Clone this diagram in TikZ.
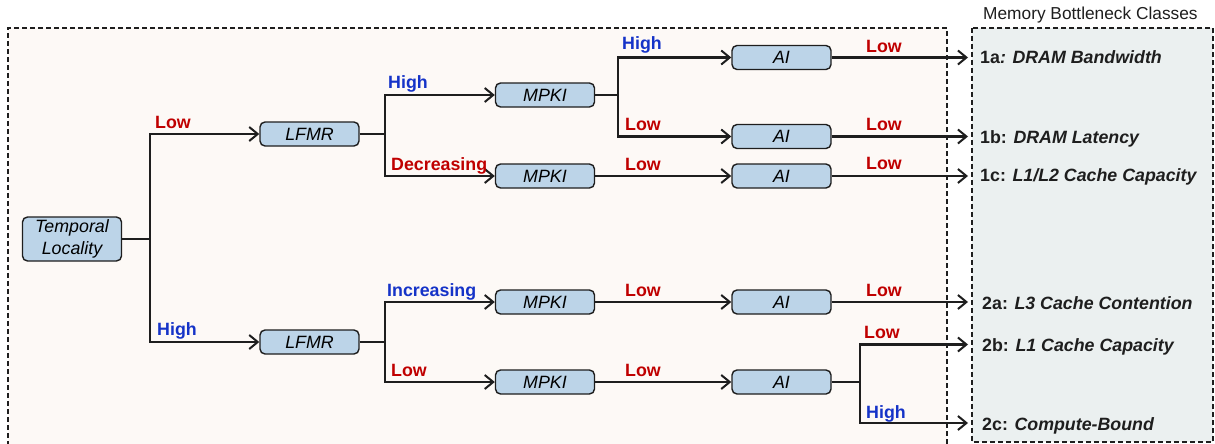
\documentclass[tikz,border=0pt]{standalone}
\usepackage{fontspec}
\setmainfont{Liberation Sans}
\usetikzlibrary{arrows.meta}
\definecolor{nodefill}{HTML}{BCD4E8}
\definecolor{leftbg}{HTML}{FDF9F6}
\definecolor{rightbg}{HTML}{EBF0F0}
\definecolor{lowred}{HTML}{C00000}
\definecolor{highblue}{HTML}{1533C8}
\definecolor{ink}{HTML}{1E1E1E}
\tikzset{
  boxnode/.style={draw=ink, line width=1.4pt, fill=nodefill, rounded corners=5pt,
    minimum width=99pt, minimum height=24pt, inner sep=0pt,
    font=\fontsize{17.8}{21.7}\selectfont\itshape},
  conn/.style={draw=ink, line width=2.2pt},
  arr/.style={conn, -{Straight Barb[length=8.5pt,width=14pt,line width=2pt]}},
  lbl/.style={font=\fontsize{17.8}{20}\selectfont\bfseries, inner sep=0pt, anchor=base west},
  lowlbl/.style={lbl, text=lowred},
  highlbl/.style={lbl, text=highblue},
  outlbl/.style={font=\fontsize{17.8}{20}\selectfont\bfseries, inner sep=0pt, anchor=base west, text=ink},
  panel/.style={line width=1.5pt, dash pattern=on 5pt off 3pt, draw=ink}
}
\begin{document}
\begin{tikzpicture}[x=1pt,y=-1pt]
\useasboundingbox (0,0) rectangle (1215,444);
% panels
\fill[leftbg] (8,28) rectangle (947,446);
\draw[panel] (8,446) -- (8,28) -- (947,28) -- (947,446);
\filldraw[panel, fill=rightbg] (972,28) rectangle (1213,442);
\node[anchor=base west, inner sep=0pt, font=\fontsize{17.3}{20}\selectfont, text=ink] (hdr) at (983,19.3) {Memory Bottleneck Classes};

% nodes
\node[boxnode, minimum height=44pt, align=center] (tl) at (72,239) {\raisebox{-2pt}{Temporal}\\\raisebox{-2pt}{Locality}};
\node[boxnode] (lf1) at (309.5,134) {LFMR};
\node[boxnode] (lf2) at (309.5,342) {LFMR};
\node[boxnode] (mp1) at (545,95) {MPKI};
\node[boxnode] (mp2) at (545,176) {MPKI};
\node[boxnode] (mp3) at (545,302) {MPKI};
\node[boxnode] (mp4) at (545,382) {MPKI};
\node[boxnode] (ai1) at (781.5,57.5) {AI};
\node[boxnode] (ai2) at (781.5,136.5) {AI};
\node[boxnode] (ai3) at (781.5,176) {AI};
\node[boxnode] (ai4) at (781.5,302) {AI};
\node[boxnode] (ai5) at (781.5,382) {AI};

% output labels
\node[outlbl] (o1a) at (980,63.3) {1a\textit{: DRAM Bandwidth}};
\node[outlbl] (o1b) at (980,143.3) {1b: \textit{DRAM Latency}};
\node[outlbl] (o1c) at (980,181.5) {1c: \textit{L1/L2 Cache Capacity}};
\node[outlbl] (o2a) at (982,309.5) {2a: \textit{L3 Cache Contention}};
\node[outlbl] (o2b) at (982,351.5) {2b: \textit{L1 Cache Capacity}};
\node[outlbl] (o2c) at (982,430.5) {2c: \textit{Compute-Bound}};

% arrow end points
\coordinate (t1a) at (968,57.5);
\coordinate (t1b) at (968,136.5);
\coordinate (t1c) at (968,176);
\coordinate (t2a) at (968,302);
\coordinate (t2b) at (968,344.5);
\coordinate (t2c) at (968,423);

% split points
\coordinate (s0) at (150,239);
\coordinate (s1) at (385,134);
\coordinate (s2) at (385,342);
\coordinate (s3) at (618,95);
\coordinate (s4) at (860,382);

% connectors
\draw[conn] (tl.east) -- (s0);
\draw[arr] (s0) |- (lf1.west);
\draw[arr] (s0) |- (lf2.west);
\draw[conn] (lf1.east) -- (s1);
\draw[arr] (s1) |- (mp1.west);
\draw[arr] (s1) |- (mp2.west);
\draw[conn] (lf2.east) -- (s2);
\draw[arr] (s2) |- (mp3.west);
\draw[arr] (s2) |- (mp4.west);
\draw[conn] (mp1.east) -- (s3);
\draw[arr] (s3) |- (ai1.west);
\draw[arr] (s3) |- (ai2.west);
\draw[arr] (mp2.east) -- (ai3.west);
\draw[arr] (mp3.east) -- (ai4.west);
\draw[arr] (mp4.east) -- (ai5.west);
\draw[arr] (ai1.east) -- (t1a);
\draw[arr] (ai2.east) -- (t1b);
\draw[arr] (ai3.east) -- (t1c);
\draw[arr] (ai4.east) -- (t2a);
\draw[conn] (ai5.east) -- (s4);
\draw[arr] (s4) |- (t2b);
\draw[arr] (s4) |- (t2c);

% branch labels
\node[lowlbl] (l1) at (155,128) {Low};
\node[highlbl] (l2) at (157,335) {High};
\node[highlbl] (l3) at (388,88.5) {High};
\node[lowlbl] (l4) at (391,170) {Decreasing};
\node[highlbl] (l5) at (387,296) {Increasing};
\node[lowlbl] (l6) at (391,376) {Low};
\node[highlbl] (l7) at (622,50) {High};
\node[lowlbl] (l8) at (625,130) {Low};
\node[lowlbl] (l9) at (625,170) {Low};
\node[lowlbl] (l10) at (625,296) {Low};
\node[lowlbl] (l11) at (625,376) {Low};
\node[lowlbl] (l12) at (866,52.5) {Low};
\node[lowlbl] (l13) at (866,130.5) {Low};
\node[lowlbl] (l14) at (866,169) {Low};
\node[lowlbl] (l15) at (866,296) {Low};
\node[lowlbl] (l16) at (864,338) {Low};
\node[highlbl] (l17) at (866,418) {High};
\end{tikzpicture}
\end{document}
